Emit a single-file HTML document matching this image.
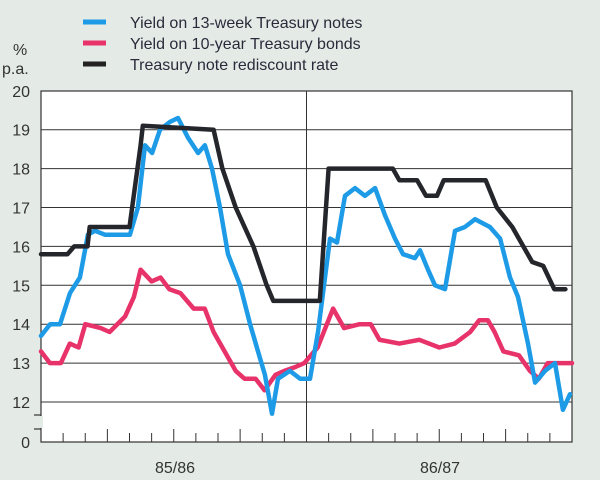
<!DOCTYPE html>
<html><head><meta charset="utf-8"><style>
body{margin:0;background:#e4ebe6;}
svg{display:block;font-family:"Liberation Sans",sans-serif;}
</style></head><body>
<svg id="c" width="600" height="480">
<rect x="0" y="0" width="600" height="480" fill="#e4ebe6"/>
<g>
<line x1="83" y1="22" x2="106" y2="22" stroke="#1e9be6" stroke-width="5"/>
<text x="130" y="28" font-size="16" fill="#2a2a3a">Yield on 13-week Treasury notes</text>
<line x1="83" y1="43" x2="106" y2="43" stroke="#e8336a" stroke-width="5"/>
<text x="130" y="49" font-size="16" fill="#2a2a3a">Yield on 10-year Treasury bonds</text>
<line x1="83" y1="64" x2="106" y2="64" stroke="#222" stroke-width="5"/>
<text x="130" y="70" font-size="16" fill="#2a2a3a">Treasury note rediscount rate</text>
</g>
<text x="13" y="55" font-size="16" fill="#333">%</text>
<text x="2" y="74" font-size="16" fill="#333">p.a.</text>
<rect x="41" y="91" width="531" height="351" fill="#fff" stroke="#333" stroke-width="1.2"/>
<g id="grid"></g><g id="ticks"></g><g id="series"></g>
<text x="175" y="473" font-size="16" fill="#333" text-anchor="middle">85/86</text>
<text x="440" y="473" font-size="16" fill="#333" text-anchor="middle">86/87</text>
</svg>
<script>
const yTicks=[12,13,14,15,16,17,18,19,20];
const months=24;
const blueT=[0,0.41,0.86,1.31,1.76,2.12,2.44,2.89,4.02,4.38,4.7,5.02,5.38,5.83,6.19,6.64,7.1,7.41,7.73,8.09,8.45,9.0,9.45,9.81,10.12,10.44,10.71,11.25,11.71,12.16,12.52,13.06,13.38,13.74,14.19,14.64,15.1,15.55,16.0,16.36,16.9,17.13,17.49,17.81,18.26,18.71,19.16,19.62,20.29,20.75,21.2,21.56,22.01,22.33,22.78,23.23,23.59,23.91];
const blueV=[13.7,14.0,14.0,14.8,15.2,16.3,16.4,16.3,16.3,17.0,18.6,18.4,19.0,19.2,19.3,18.8,18.4,18.6,18.0,17.0,15.8,15.0,14.0,13.3,12.7,11.7,12.6,12.8,12.6,12.6,13.8,16.2,16.1,17.3,17.5,17.3,17.5,16.8,16.2,15.8,15.7,15.9,15.4,15.0,14.9,16.4,16.5,16.7,16.5,16.2,15.2,14.7,13.5,12.5,12.8,13.0,11.8,12.2];
const pinkT=[0,0.4,0.9,1.3,1.7,2.0,2.7,3.1,3.8,4.2,4.5,5.0,5.4,5.8,6.3,6.9,7.4,7.8,8.3,8.8,9.2,9.7,10.1,10.6,11.0,11.5,11.9,12.5,13.2,13.7,14.4,14.9,15.3,16.2,17.1,18.0,18.7,19.4,19.8,20.2,20.5,20.9,21.6,22.1,22.5,22.9,23.5,24.0];
const pinkV=[13.3,13.0,13.0,13.5,13.4,14.0,13.9,13.8,14.2,14.7,15.4,15.1,15.2,14.9,14.8,14.4,14.4,13.8,13.3,12.8,12.6,12.6,12.3,12.7,12.8,12.9,13.0,13.4,14.4,13.9,14.0,14.0,13.6,13.5,13.6,13.4,13.5,13.8,14.1,14.1,13.8,13.3,13.2,12.8,12.6,13.0,13.0,13.0];
const blackT=[0,1.2,1.5,2.1,2.2,4.0,4.5,4.6,7.8,8.2,8.8,9.6,10.2,10.5,12.6,13.0,15.9,16.2,17.0,17.4,17.9,18.2,20.1,20.6,21.3,21.6,22.2,22.7,23.2,23.7];
const blackV=[15.8,15.8,16.0,16.0,16.5,16.5,18.6,19.1,19.0,18.0,17.0,16.0,15.0,14.6,14.6,18.0,18.0,17.7,17.7,17.3,17.3,17.7,17.7,17.0,16.5,16.2,15.6,15.5,14.9,14.9];
const X=t=>41+t*531/months;
const Y=v=>402-(v-12)*38.9;
const NS='http://www.w3.org/2000/svg';
function mk(tag,attrs,parent){const e=document.createElementNS(NS,tag);for(const k in attrs)e.setAttribute(k,attrs[k]);parent.appendChild(e);return e;}
const grid=document.getElementById('grid'),ticks=document.getElementById('ticks'),ser=document.getElementById('series');
yTicks.forEach(v=>{
 if(v<20){const l=mk('line',{x1:41,x2:572,y1:Y(v),y2:Y(v),stroke:'#333','stroke-width':1},grid);
 
 }
 const t=mk('text',{x:30,y:Y(v)+6,'font-size':16,fill:'#333','text-anchor':'end'},grid);t.textContent=v;
 
 
});
const z=mk('text',{x:30,y:448,'font-size':16,fill:'#333','text-anchor':'end'},grid);z.textContent='0';


mk('rect',{x:39,y:416,width:4,height:12,fill:'#e4ebe6'},grid);
[415,429].forEach((y,i)=>{const b=mk('line',{x1:34,x2:41,y1:y,y2:y,stroke:'#333','stroke-width':1.2},grid);
 
 });
const mid=mk('line',{x1:X(12),x2:X(12),y1:91,y2:442,stroke:'#333','stroke-width':1},grid);


for(let m=1;m<months;m++){const len=(m%3===0)?13:9;
 const tk=mk('line',{x1:X(m),x2:X(m),y1:442,y2:442-len,stroke:'#333','stroke-width':1},ticks);
 
 }
function line(T,V,color,name){
 const n=Math.min(T.length,V.length);let d='';
 for(let i=0;i<n;i++)d+=(i?'L':'M')+X(T[i]).toFixed(1)+','+Y(V[i]).toFixed(1);
 const p=mk('path',{d:d,fill:'none',stroke:color,'stroke-width':4.5,'stroke-linejoin':'round','stroke-linecap':'round'},ser);
 
 }
line(pinkT,pinkV,'#e8336a','series-10-year-bonds');
line(blueT,blueV,'#1e9be6','series-13-week-notes');
line(blackT,blackV,'#24262c','series-rediscount-rate');
</script>
</body></html>
